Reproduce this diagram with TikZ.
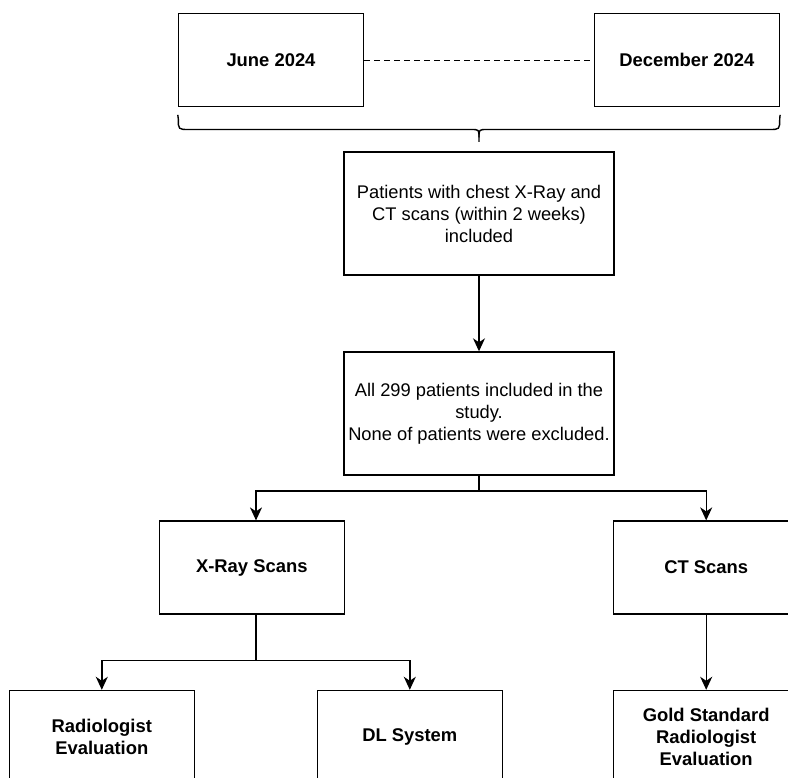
\documentclass[tikz,border=0pt]{standalone}
\usepackage{fontspec}
\setmainfont{Liberation Sans}
\usetikzlibrary{arrows.meta}
\begin{document}
\begin{tikzpicture}[x=1pt,y=-1pt,
  box/.style={draw=black, line width=1.4pt, fill=white, minimum width=185pt, minimum height=93pt, inner sep=0pt, align=center, font=\fontsize{18.4}{21.8}\selectfont\bfseries},
  bigbox/.style={box, minimum width=270pt, minimum height=123pt, font=\fontsize{18.3}{22}\selectfont},
  conn/.style={line width=1.4pt, draw=black},
  arr/.style={conn, -{Stealth[length=13pt,width=12pt,inset=4pt]}}
]
\useasboundingbox (0,0) rectangle (788,778);
\clip (0,0) rectangle (788,778);

\node[box] (june) at (271,60.2) {June 2024};
\node[box] (dec) at (686.9,60.2) {December 2024};
\node[bigbox] (pat) at (479,213.5) {Patients with chest X-Ray and\\CT scans (within 2 weeks)\\included};
\node[bigbox] (all) at (479,413.5) {All 299 patients included in the\\study.\\None of patients were excluded.};
\node[box] (xray) at (251.8,567.6) {X-Ray Scans};
\node[box] (ct) at (706.2,567.6) {CT Scans};
\node[box] (rad) at (101.8,737) {Radiologist\\Evaluation};
\node[box] (dl) at (409.8,737) {DL System};
\node[box] (gold) at (706.2,737) {Gold Standard\\Radiologist\\Evaluation};

% dashed timeline
\draw[line width=1.1pt, dash pattern=on 6pt off 4pt] (june.east) -- (dec.west);

% brace
\coordinate (bL) at ([yshift=-7.5pt]june.south west);
\coordinate (bR) at ([yshift=-7.5pt]dec.south east);
\coordinate (btip) at (479,142);
\draw[conn] (bL) -- (178.3,119) .. controls (178.3,129.5) .. (189,129.5) -- (471,129.5) .. controls (479,129.5) .. (479,137.5) -- (btip);
\draw[conn] (bR) -- (779.7,119) .. controls (779.7,129.5) .. (769,129.5) -- (487,129.5) .. controls (479,129.5) .. (479,137.5);

% connectors
\draw[arr] (pat) -- (all);
\coordinate (j1) at (479,491);
\draw[conn] (all.south) -- (j1);
\draw[arr] (j1) -| ([xshift=4.2pt]xray.north);
\draw[arr] (j1) -| (ct.north);
\coordinate (j2) at (256,660.5);
\draw[conn] ([xshift=4.2pt]xray.south) -- (j2);
\draw[arr] (j2) -| (rad.north);
\draw[arr] (j2) -| (dl.north);
\draw[arr] (ct.south) -- (gold.north);
\end{tikzpicture}
\end{document}
